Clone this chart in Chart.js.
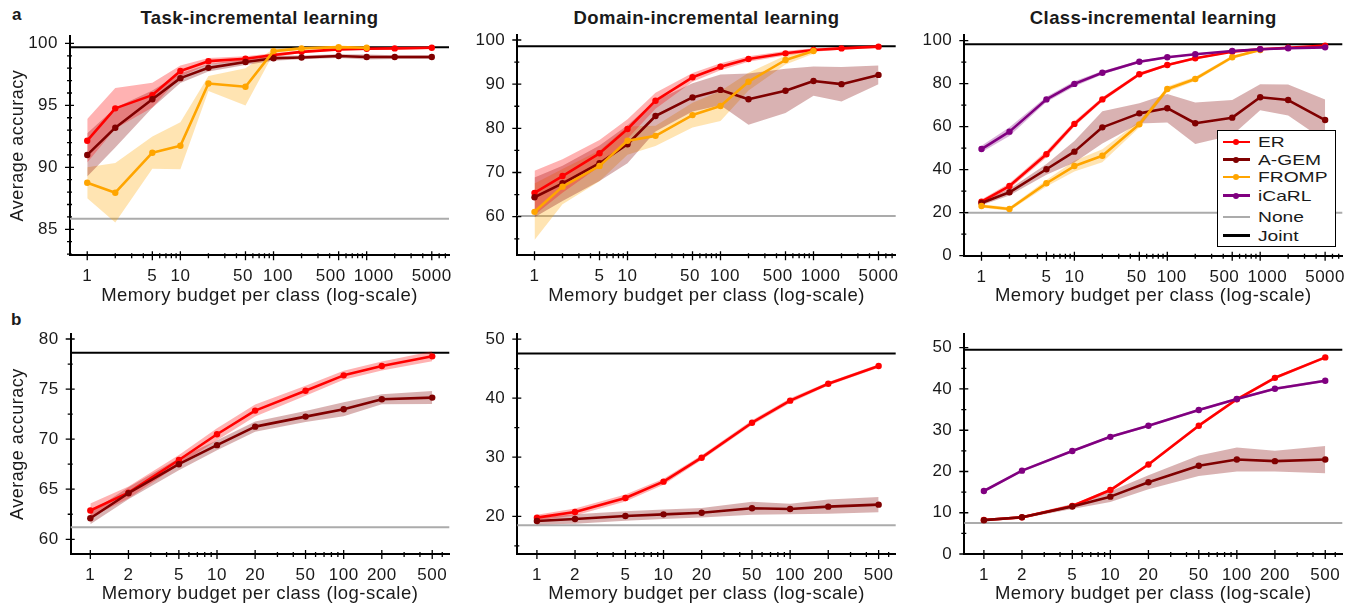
<!DOCTYPE html>
<html><head><meta charset="utf-8">
<script src="https://cdn.jsdelivr.net/npm/chart.js@4.4.1/dist/chart.umd.min.js"></script>
<style>
html,body{margin:0;padding:0;background:#fff;}
#wrap{position:relative;width:1367px;height:609px;overflow:hidden;font-family:'Liberation Sans',Arial,sans-serif;color:#1a1a1a;}
#wrap canvas{position:absolute;}
.ttl{position:absolute;font-weight:bold;font-size:18.5px;line-height:1;text-align:center;letter-spacing:0.4px;white-space:nowrap;}
.lett{position:absolute;font-weight:bold;font-size:17px;line-height:1;}
#legend{position:absolute;left:1217px;top:130px;width:117px;height:115px;border:1.5px solid #000;background:#fff;z-index:5;}
#legend .sw{position:absolute;left:4.5px;width:27px;height:2.5px;}
#legend .dot{position:absolute;width:6px;height:6px;border-radius:50%;}
#legend .tx{position:absolute;left:39.5px;height:16px;line-height:16px;font-size:14.8px;white-space:nowrap;transform:scaleX(1.3);transform-origin:0 50%;}
</style></head>
<body>
<div id="wrap">
  <div class="lett" style="left:12px;top:6.3px;">a</div>
  <div class="lett" style="left:11px;top:310.6px;">b</div>
  <div class="ttl" style="left:70px;width:379px;top:9.3px;">Task-incremental learning</div>
  <div class="ttl" style="left:517.3px;width:378.4px;top:9.3px;">Domain-incremental learning</div>
  <div class="ttl" style="left:964.3px;width:378px;top:9.3px;">Class-incremental learning</div>
  <div id="legend"></div>
</div>
<script>
// ---------------- data ----------------
const xTop = [1, 2, 5, 10, 20, 50, 100, 200, 500, 1000, 2000, 5000];
const xBottom = [1, 2, 5, 10, 20, 50, 100, 200, 500];
const xTickValuesTop = [1, 5, 10, 50, 100, 500, 1000, 5000];
// tick label texts (padded like the reference, where crowded labels are pushed apart)
const xTickTextTop = ['1', '5', '10', '50 ', '\u2002100', '500   ', '\u2002 1000', '5000'];
const xTickValuesBottom = [1, 2, 5, 10, 20, 50, 100, 200, 500];
const xTickTextBottom = ['1', '2', '5', '10', '20', '50', '100', '200', '500'];
const xMinorTop = [2,3,4,6,7,8,9,20,30,40,60,70,80,90,200,300,400,600,700,800,900,2000,3000,4000,6000,7000];
const xMinorBottom = [3,4,6,7,8,9,30,40,60,70,80,90,300,400,600];

// (a) Task-incremental
const taskER      = [92.15, 94.76, 95.83, 97.77, 98.57, 98.76, 99.06, 99.32, 99.52, 99.57, 99.6, 99.65];
const taskER_sd   = [1.75, 1.65, 1.0, 0.45, 0.25, 0.2, 0.15, 0.1, 0.1, 0.1, 0.1, 0.1];
const taskAGEM    = [91.0, 93.2, 95.5, 97.2, 98.03, 98.5, 98.8, 98.87, 98.98, 98.9, 98.9, 98.9];
const taskAGEM_sd = [1.75, 1.6, 0.7, 0.4, 0.3, 0.25, 0.2, 0.15, 0.15, 0.2, 0.15, 0.15];
const taskFROMP   = [88.76, 87.95, 91.18, 91.74, 96.77, 96.5, 99.38, 99.6, 99.7, 99.65];
const taskFROMP_sd= [1.25, 2.4, 1.3, 1.9, 0.6, 1.5, 0.2, 0.1, 0.1, 0.1];
const taskJoint = 99.7, taskNone = 85.86;

// (a) Domain-incremental
const domER       = [65.4, 69.2, 74.35, 79.85, 86.26, 91.55, 93.96, 95.7, 96.98, 97.74, 98.1, 98.49];
const domER_sd    = [5.0, 3.8, 3.0, 2.2, 1.8, 1.0, 0.8, 0.6, 0.5, 0.4, 0.3, 0.3];
const domAGEM     = [64.4, 67.56, 72.1, 76.4, 82.8, 87.0, 88.7, 86.6, 88.5, 90.7, 90.0, 92.1];
const domAGEM_sd  = [4.5, 4.0, 4.0, 4.3, 3.5, 3.2, 3.5, 5.8, 5.0, 3.3, 3.9, 2.1];
const domFROMP    = [61.1, 66.8, 71.5, 77.2, 78.3, 83.0, 85.06, 90.56, 95.47, 97.5];
const domFROMP_sd = [6.4, 4.0, 3.5, 3.2, 2.3, 2.8, 3.4, 2.0, 1.0, 0.6];
const domJoint = 98.6, domNone = 60.15;

// (a) Class-incremental
const clsER       = [25.1, 32.4, 47.2, 61.3, 72.7, 84.4, 88.7, 91.8, 94.9, 96.0, 96.7, 97.7];
const clsER_sd    = [1.0, 1.3, 1.5, 1.2, 1.0, 0.8, 0.6, 0.5, 0.4, 0.3, 0.3, 0.3];
const clsAGEM     = [24.5, 29.5, 40.2, 48.4, 59.7, 66.2, 68.6, 61.6, 64.2, 73.7, 72.4, 63.1];
const clsAGEM_sd  = [1.0, 1.5, 2.5, 5.0, 7.5, 4.7, 6.6, 9.6, 8.2, 6.0, 7.2, 9.6];
const clsFROMP    = [23.1, 21.7, 33.7, 41.7, 46.5, 61.1, 77.5, 82.2, 92.3, 95.7];
const clsFROMP_sd = [0.8, 0.8, 1.5, 2.5, 3.0, 1.5, 1.2, 1.0, 0.8, 0.5];
const clsICARL    = [49.6, 57.7, 72.7, 79.9, 85.1, 90.2, 92.3, 93.7, 95.2, 96.0, 96.5, 96.9];
const clsICARL_sd = [1.5, 2.0, 1.2, 1.2, 0.8, 0.6, 0.5, 0.4, 0.4, 0.3, 0.3, 0.3];
const clsJoint = 98.3, clsNone = 20.0;

// (b) Task-incremental
const bTaskER      = [62.87, 64.66, 67.92, 70.49, 72.85, 74.84, 76.37, 77.31, 78.27];
const bTaskER_sd   = [0.7, 0.6, 0.5, 0.6, 0.6, 0.5, 0.45, 0.45, 0.5];
const bTaskAGEM    = [62.1, 64.6, 67.5, 69.4, 71.25, 72.25, 72.98, 73.98, 74.15];
const bTaskAGEM_sd = [0.6, 0.6, 0.6, 0.5, 0.5, 0.55, 0.7, 0.5, 0.65];
const bTaskJoint = 78.64, bTaskNone = 61.2;

// (b) Domain-incremental
const bDomER      = [19.77, 20.73, 23.1, 25.86, 29.92, 35.84, 39.57, 42.44, 45.43];
const bDomER_sd   = [0.5, 0.6, 0.6, 0.5, 0.4, 0.4, 0.4, 0.3, 0.3];
const bDomAGEM    = [19.2, 19.54, 20.05, 20.33, 20.61, 21.35, 21.24, 21.63, 21.97];
const bDomAGEM_sd = [0.6, 0.8, 0.8, 0.8, 0.8, 1.1, 0.9, 1.2, 1.3];
const bDomJoint = 47.57, bDomNone = 18.47;

// (b) Class-incremental
const bClsER       = [8.24, 8.88, 11.63, 15.5, 21.7, 31.1, 37.5, 42.7, 47.65];
const bClsER_sd    = [0.3, 0.3, 0.3, 0.4, 0.4, 0.4, 0.4, 0.4, 0.3];
const bClsAGEM     = [8.2, 8.9, 11.5, 13.9, 17.4, 21.4, 22.9, 22.5, 22.9];
const bClsAGEM_sd  = [0.3, 0.3, 0.6, 1.3, 1.7, 2.5, 2.9, 2.5, 3.3];
const bClsICARL    = [15.27, 20.2, 24.96, 28.4, 31.1, 34.9, 37.56, 40.06, 42.0];
const bClsICARL_sd = [0.3, 0.3, 0.3, 0.3, 0.3, 0.3, 0.3, 0.3, 0.3];
const bClsJoint = 49.5, bClsNone = 7.5;

// y ticks
const yTicksTask = [85, 90, 95, 100], yMinorTask = [83,84,86,87,88,89,91,92,93,94,96,97,98,99];
const yTicksDom = [60, 70, 80, 90, 100], yMinorDom = [55, 65, 75, 85, 95];
const yTicksCls = [0, 20, 40, 60, 80, 100], yMinorCls = [10, 30, 50, 70, 90];
const yTicksBTask = [60, 65, 70, 75, 80], yMinorBTask = [62.5, 67.5, 72.5, 77.5];
const yTicksBDom = [20, 30, 40, 50], yMinorBDom = [15, 25, 35, 45];
const yTicksBCls = [0, 10, 20, 30, 40, 50], yMinorBCls = [5, 15, 25, 35, 45];

// ---------------- styles ----------------
const colors = {'ER':'#ff0000','A-GEM':'#800000','FROMP':'#ffa500','iCaRL':'#800080'};
const bands  = {'ER':'rgba(255,0,0,0.3)','A-GEM':'rgba(128,0,0,0.3)','FROMP':'rgba(255,165,0,0.3)','iCaRL':'rgba(128,0,128,0.3)'};
const TXT = '#1a1a1a';

Chart.defaults.font.family = "'Liberation Sans', Arial, sans-serif";
Chart.defaults.color = TXT;

const spacing = {
  id: 'spacing',
  beforeLayout(chart){ chart.ctx.letterSpacing = '0.5px'; },
  beforeDraw(chart){ chart.ctx.letterSpacing = '0.5px'; }
};
const refLines = {
  id: 'refLines',
  beforeDatasetsDraw(chart, args, o){
    const {ctx, chartArea: a} = chart; const y = chart.scales.y;
    ctx.save(); ctx.lineWidth = 2;
    [[o.none, '#ababab'], [o.joint, '#000']].forEach(([v, c]) => {
      const p = y.getPixelForValue(v);
      ctx.strokeStyle = c; ctx.beginPath(); ctx.moveTo(a.left, p); ctx.lineTo(a.right, p); ctx.stroke();
    });
    ctx.restore();
  }
};
const tickMarks = {
  id: 'tickMarks',
  afterDraw(chart, args, o){
    const {ctx, chartArea: a} = chart; const xs = chart.scales.x, ys = chart.scales.y;
    ctx.save(); ctx.strokeStyle = '#000'; ctx.lineWidth = 1.3; ctx.beginPath();
    xs.ticks.forEach(t => { const p = xs.getPixelForValue(t.value); ctx.moveTo(p, a.bottom - 4); ctx.lineTo(p, a.bottom + 5); });
    o.xMinor.forEach(v => { if (v < xs.min || v > xs.max) return; const p = xs.getPixelForValue(v); ctx.moveTo(p, a.bottom - 2); ctx.lineTo(p, a.bottom + 3); });
    ys.ticks.forEach(t => { const p = ys.getPixelForValue(t.value); ctx.moveTo(a.left - 5, p); ctx.lineTo(a.left + 4, p); });
    o.yMinor.forEach(v => { if (v < ys.min || v > ys.max) return; const p = ys.getPixelForValue(v); ctx.moveTo(a.left - 3, p); ctx.lineTo(a.left + 2, p); });
    ctx.stroke(); ctx.restore();
  }
};

const wrap = document.getElementById('wrap');

function makePanel(p){
  const W = p.W, H = p.H;
  const c = document.createElement('canvas');
  c.width = W; c.height = H;
  c.style.left = p.left + 'px'; c.style.top = p.top + 'px';
  c.style.width = W + 'px'; c.style.height = H + 'px';
  wrap.appendChild(c);
  const datasets = [];
  p.series.forEach((s, i) => {
    const xs = p.x.slice(0, s.mean.length);
    datasets.push({data: xs.map((x, j) => ({x, y: s.mean[j] - s.sd[j]})), borderWidth: 0, borderColor: 'transparent', pointRadius: 0, fill: false, order: 10});
    datasets.push({data: xs.map((x, j) => ({x, y: s.mean[j] + s.sd[j]})), borderWidth: 0, borderColor: 'transparent', pointRadius: 0, fill: '-1', backgroundColor: bands[s.name], order: 10});
    datasets.push({label: s.name, data: xs.map((x, j) => ({x, y: s.mean[j]})), borderColor: colors[s.name], backgroundColor: colors[s.name],
      borderWidth: 2.6, pointRadius: 3.2, pointBorderWidth: 0, pointBackgroundColor: colors[s.name], fill: false, tension: 0,
      borderJoinStyle: 'round', borderCapStyle: 'round', order: 5 - i});
  });
  const chartRight = p.chartRight - p.left;
  new Chart(c, {
    type: 'line',
    data: {datasets},
    plugins: [spacing, refLines, tickMarks],
    options: {
      responsive: false, animation: false, devicePixelRatio: 1, events: [],
      layout: {padding: {left: 0, top: p.chartTop - p.top, right: W - chartRight, bottom: 0}},
      plugins: {legend: {display: false}, tooltip: {enabled: false},
        refLines: {joint: p.joint, none: p.none},
        tickMarks: {xMinor: p.xMinor, yMinor: p.yMinor}},
      scales: {
        x: {type: 'logarithmic', min: p.xmin, max: p.xmax,
          afterBuildTicks: sc => { sc.ticks = p.xTicks.map(v => ({value: v})); },
          afterFit: sc => { sc.height = H - (p.chartBottom - p.top); },
          ticks: {autoSkip: false, maxRotation: 0, minRotation: 0, padding: 11, font: {size: 17}, color: TXT,
            callback: (v, i) => p.xText[i]},
          grid: {display: true, drawOnChartArea: false, drawTicks: false},
          border: {display: true, color: '#000', width: 2},
          title: {display: true, text: 'Memory budget per class (log-scale)', font: {size: 18.5}, color: TXT, padding: {top: 0, bottom: p.xTitlePad}}
        },
        y: {type: 'linear', min: p.ymin, max: p.ymax,
          afterBuildTicks: sc => { sc.ticks = p.yTicks.map(v => ({value: v})); },
          afterFit: sc => { sc.width = p.chartLeft - p.left; },
          ticks: {padding: 12, font: {size: 17}, color: TXT, callback: v => String(v)},
          grid: {display: true, drawOnChartArea: false, drawTicks: false},
          border: {display: true, color: '#000', width: 2},
          title: p.yTitle ? {display: true, text: 'Average accuracy', font: {size: 18}, color: TXT, padding: {top: 7.5, bottom: 0}} : {display: false}
        }
      }
    }
  });
}

const topRow = {top: 0, H: 308, chartTop: 36, chartBottom: 255.3, xTitlePad: 0.9, x: xTop, xTicks: xTickValuesTop, xText: xTickTextTop, xMinor: xMinorTop, xmin: 0.653, xmax: 7654};
const botRow = {top: 300, H: 309, chartTop: 334.3, chartBottom: 554, xTitlePad: 3.5, x: xBottom, xTicks: xTickValuesBottom, xText: xTickTextBottom, xMinor: xMinorBottom, xmin: 0.733, xmax: 682};

makePanel(Object.assign({}, topRow, {left: 0, W: 469, chartLeft: 70, chartRight: 449, yTitle: true,
  ymin: 82.9, ymax: 100.6, yTicks: yTicksTask, yMinor: yMinorTask, joint: taskJoint, none: taskNone,
  series: [{name: 'ER', mean: taskER, sd: taskER_sd}, {name: 'A-GEM', mean: taskAGEM, sd: taskAGEM_sd}, {name: 'FROMP', mean: taskFROMP, sd: taskFROMP_sd}]}));
makePanel(Object.assign({}, topRow, {left: 455, W: 461, chartLeft: 517.3, chartRight: 895.7, chartTop: 35, yTitle: false,
  ymin: 51.26, ymax: 101.13, yTicks: yTicksDom, yMinor: yMinorDom, joint: domJoint, none: domNone,
  series: [{name: 'ER', mean: domER, sd: domER_sd}, {name: 'A-GEM', mean: domAGEM, sd: domAGEM_sd}, {name: 'FROMP', mean: domFROMP, sd: domFROMP_sd}]}));
makePanel(Object.assign({}, topRow, {left: 905, W: 462, chartLeft: 964.3, chartRight: 1342.3, chartTop: 35, chartBottom: 255.7, yTitle: false,
  ymin: 0, ymax: 102.65, yTicks: yTicksCls, yMinor: yMinorCls, joint: clsJoint, none: clsNone,
  series: [{name: 'ER', mean: clsER, sd: clsER_sd}, {name: 'A-GEM', mean: clsAGEM, sd: clsAGEM_sd}, {name: 'FROMP', mean: clsFROMP, sd: clsFROMP_sd}, {name: 'iCaRL', mean: clsICARL, sd: clsICARL_sd}]}));
makePanel(Object.assign({}, botRow, {left: 0, W: 469, chartLeft: 70.7, chartRight: 449.3, yTitle: true,
  ymin: 58.53, ymax: 80.47, yTicks: yTicksBTask, yMinor: yMinorBTask, joint: bTaskJoint, none: bTaskNone,
  series: [{name: 'ER', mean: bTaskER, sd: bTaskER_sd}, {name: 'A-GEM', mean: bTaskAGEM, sd: bTaskAGEM_sd}]}));
makePanel(Object.assign({}, botRow, {left: 455, W: 461, chartLeft: 517.3, chartRight: 895.7, yTitle: false,
  ymin: 13.62, ymax: 50.8, yTicks: yTicksBDom, yMinor: yMinorBDom, joint: bDomJoint, none: bDomNone,
  series: [{name: 'ER', mean: bDomER, sd: bDomER_sd}, {name: 'A-GEM', mean: bDomAGEM, sd: bDomAGEM_sd}]}));
makePanel(Object.assign({}, botRow, {left: 905, W: 462, chartLeft: 964.3, chartRight: 1342.3, yTitle: false,
  ymin: 0, ymax: 53.25, yTicks: yTicksBCls, yMinor: yMinorBCls, joint: bClsJoint, none: bClsNone,
  series: [{name: 'ER', mean: bClsER, sd: bClsER_sd}, {name: 'A-GEM', mean: bClsAGEM, sd: bClsAGEM_sd}, {name: 'iCaRL', mean: bClsICARL, sd: bClsICARL_sd}]}));

// ---------------- legend ----------------
const legendEntries = [
  {name: 'ER', color: colors['ER'], marker: true, cy: 10.8},
  {name: 'A-GEM', color: colors['A-GEM'], marker: true, cy: 28.5},
  {name: 'FROMP', color: colors['FROMP'], marker: true, cy: 46.2},
  {name: 'iCaRL', color: colors['iCaRL'], marker: true, cy: 64.5},
  {name: 'None', color: '#ababab', marker: false, cy: 86.2},
  {name: 'Joint', color: '#000', marker: false, cy: 104.5}
];
const lg = document.getElementById('legend');
legendEntries.forEach(e => {
  const sw = document.createElement('div'); sw.className = 'sw';
  sw.style.top = (e.cy - 1.25) + 'px'; sw.style.background = e.color; lg.appendChild(sw);
  if (e.marker) { const d = document.createElement('div'); d.className = 'dot'; d.style.left = (18.2 - 3) + 'px'; d.style.top = (e.cy - 3) + 'px'; d.style.background = e.color; lg.appendChild(d); }
  const t = document.createElement('div'); t.className = 'tx'; t.textContent = e.name; t.style.top = (e.cy - 7.8) + 'px'; lg.appendChild(t);
});
</script>
</body></html>
